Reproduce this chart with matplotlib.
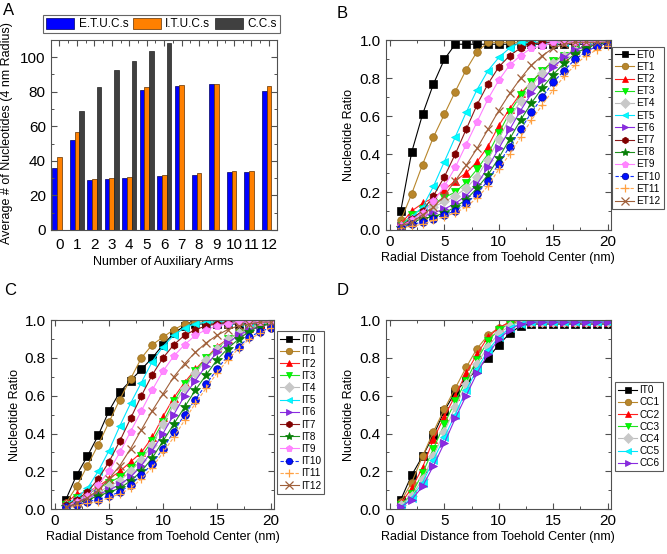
import matplotlib
matplotlib.use("Agg")
import matplotlib.pyplot as plt
from matplotlib.ticker import MultipleLocator
import numpy as np

plt.rcParams['font.family'] = ['Liberation Sans', 'DejaVu Sans']

# ---------------- Panel A data ----------------
arms = [0, 1, 2, 3, 4, 5, 6, 7, 8, 9, 10, 11, 12]
etucs = [36, 52, 29, 29.5, 30, 81, 31, 83.5, 32, 84.5, 33.5, 33.5, 80.5]
itucs = [42, 56.5, 29.5, 30, 30.5, 82.5, 32, 84, 33, 84.5, 34, 34, 83.5]
cc_arms = [1, 2, 3, 4, 5, 6]
ccs = [69, 82.5, 92.5, 97.5, 103.5, 108]

# ---------------- Radial distance ----------------
radial = list(range(1, 21))

# ---------------- Panel B data ----------------
ET0 = [0.10, 0.41, 0.61, 0.77, 0.90, 0.98, 0.98, 0.98, 0.98, 0.98, 0.98, 0.98, 0.98, 0.98, 0.98, 0.98, 0.98, 0.98, 0.98, 0.98]
ET1 = [0.05, 0.19, 0.345, 0.49, 0.61, 0.73, 0.845, 0.94, 0.99, 0.99, 0.99, 0.99, 0.99, 0.99, 0.99, 0.99, 0.99, 0.99, 0.99, 0.99]
ET2 = [0.03, 0.10, 0.14, 0.17, 0.21, 0.26, 0.30, 0.36, 0.44, 0.55, 0.64, 0.72, 0.78, 0.84, 0.89, 0.92, 0.95, 0.97, 0.98, 0.99]
ET3 = [0.02, 0.08, 0.11, 0.14, 0.17, 0.20, 0.25, 0.32, 0.40, 0.51, 0.62, 0.71, 0.78, 0.84, 0.89, 0.92, 0.95, 0.97, 0.98, 0.99]
ET4 = [0.02, 0.06, 0.09, 0.12, 0.15, 0.18, 0.22, 0.28, 0.37, 0.48, 0.59, 0.68, 0.76, 0.83, 0.88, 0.92, 0.95, 0.97, 0.98, 0.99]
ET5 = [0.02, 0.07, 0.12, 0.23, 0.36, 0.49, 0.62, 0.74, 0.84, 0.91, 0.96, 0.99, 0.99, 0.99, 0.99, 0.99, 0.99, 0.99, 0.99, 0.99]
ET6 = [0.02, 0.05, 0.07, 0.09, 0.11, 0.14, 0.18, 0.24, 0.33, 0.43, 0.53, 0.63, 0.72, 0.79, 0.86, 0.91, 0.95, 0.97, 0.98, 0.99]
ET7 = [0.02, 0.06, 0.10, 0.18, 0.28, 0.40, 0.53, 0.66, 0.77, 0.86, 0.92, 0.96, 0.98, 0.99, 0.99, 0.99, 0.99, 0.99, 0.99, 0.99]
ET8 = [0.01, 0.04, 0.06, 0.07, 0.09, 0.12, 0.16, 0.22, 0.29, 0.38, 0.48, 0.58, 0.67, 0.75, 0.82, 0.88, 0.93, 0.96, 0.98, 0.99]
ET9 = [0.02, 0.05, 0.09, 0.15, 0.23, 0.33, 0.45, 0.57, 0.69, 0.79, 0.87, 0.92, 0.96, 0.97, 0.99, 0.99, 0.99, 0.99, 0.99, 0.99]
ET10 = [0.01, 0.03, 0.04, 0.06, 0.08, 0.10, 0.14, 0.19, 0.26, 0.35, 0.44, 0.53, 0.62, 0.70, 0.78, 0.84, 0.90, 0.94, 0.97, 0.98]
ET11 = [0.01, 0.02, 0.03, 0.05, 0.07, 0.09, 0.12, 0.17, 0.23, 0.32, 0.40, 0.49, 0.58, 0.66, 0.74, 0.81, 0.87, 0.92, 0.95, 0.97]
ET12 = [0.02, 0.04, 0.08, 0.12, 0.18, 0.26, 0.34, 0.43, 0.53, 0.63, 0.72, 0.80, 0.87, 0.92, 0.96, 0.98, 0.99, 0.99, 0.99, 0.99]

# ---------------- Panel C data ----------------
IT0 = [0.05, 0.18, 0.28, 0.39, 0.52, 0.62, 0.68, 0.74, 0.80, 0.87, 0.93, 0.97, 0.98, 0.98, 0.98, 0.98, 0.98, 0.98, 0.98, 0.98]
IT1 = [0.03, 0.12, 0.23, 0.34, 0.46, 0.58, 0.69, 0.80, 0.87, 0.91, 0.95, 0.98, 0.99, 0.99, 0.99, 0.99, 0.99, 0.99, 0.99, 0.99]
IT2 = [0.03, 0.08, 0.09, 0.12, 0.16, 0.20, 0.25, 0.30, 0.38, 0.49, 0.59, 0.67, 0.74, 0.80, 0.86, 0.90, 0.93, 0.96, 0.98, 0.99]
IT3 = [0.02, 0.06, 0.08, 0.11, 0.14, 0.17, 0.22, 0.28, 0.36, 0.46, 0.57, 0.66, 0.73, 0.80, 0.85, 0.90, 0.93, 0.96, 0.98, 0.99]
IT4 = [0.02, 0.05, 0.07, 0.09, 0.12, 0.15, 0.20, 0.26, 0.34, 0.45, 0.55, 0.64, 0.72, 0.79, 0.85, 0.90, 0.93, 0.96, 0.98, 0.99]
IT5 = [0.02, 0.06, 0.11, 0.20, 0.31, 0.44, 0.56, 0.67, 0.78, 0.86, 0.92, 0.96, 0.98, 0.99, 0.99, 0.99, 0.99, 0.99, 0.99, 0.99]
IT6 = [0.01, 0.04, 0.06, 0.08, 0.10, 0.13, 0.17, 0.23, 0.31, 0.40, 0.50, 0.60, 0.68, 0.76, 0.83, 0.88, 0.92, 0.95, 0.97, 0.98]
IT7 = [0.02, 0.05, 0.09, 0.16, 0.25, 0.36, 0.48, 0.60, 0.71, 0.80, 0.87, 0.92, 0.95, 0.97, 0.98, 0.99, 0.99, 0.99, 0.99, 0.99]
IT8 = [0.01, 0.03, 0.05, 0.07, 0.09, 0.11, 0.15, 0.20, 0.27, 0.36, 0.45, 0.54, 0.63, 0.71, 0.79, 0.85, 0.90, 0.94, 0.97, 0.98]
IT9 = [0.01, 0.04, 0.07, 0.13, 0.20, 0.30, 0.41, 0.52, 0.63, 0.73, 0.81, 0.87, 0.92, 0.95, 0.97, 0.98, 0.99, 0.99, 0.99, 0.99]
IT10 = [0.01, 0.02, 0.04, 0.05, 0.07, 0.09, 0.13, 0.18, 0.24, 0.32, 0.41, 0.50, 0.58, 0.66, 0.74, 0.81, 0.86, 0.91, 0.94, 0.96]
IT11 = [0.00, 0.02, 0.03, 0.04, 0.06, 0.08, 0.11, 0.16, 0.22, 0.30, 0.38, 0.47, 0.56, 0.64, 0.72, 0.79, 0.85, 0.90, 0.93, 0.96]
IT12 = [0.01, 0.03, 0.06, 0.10, 0.16, 0.23, 0.32, 0.42, 0.52, 0.61, 0.70, 0.77, 0.83, 0.88, 0.92, 0.95, 0.97, 0.98, 0.99, 0.99]

# ---------------- Panel D data ----------------
CC1 = [0.04, 0.14, 0.28, 0.41, 0.53, 0.64, 0.75, 0.85, 0.92, 0.96, 0.99, 0.99, 0.99, 0.99, 0.99, 0.99, 0.99, 0.99, 0.99, 0.99]
CC2 = [0.03, 0.11, 0.22, 0.37, 0.49, 0.60, 0.72, 0.82, 0.91, 0.96, 0.99, 0.99, 0.99, 0.99, 0.99, 0.99, 0.99, 0.99, 0.99, 0.99]
CC3 = [0.02, 0.08, 0.19, 0.32, 0.45, 0.57, 0.68, 0.79, 0.89, 0.95, 0.98, 0.99, 0.99, 0.99, 0.99, 0.99, 0.99, 0.99, 0.99, 0.99]
CC4 = [0.02, 0.07, 0.16, 0.28, 0.41, 0.54, 0.66, 0.77, 0.86, 0.93, 0.97, 0.99, 0.99, 0.99, 0.99, 0.99, 0.99, 0.99, 0.99, 0.99]
CC5 = [0.01, 0.06, 0.14, 0.26, 0.38, 0.50, 0.63, 0.74, 0.84, 0.91, 0.96, 0.98, 0.99, 0.99, 0.99, 0.99, 0.99, 0.99, 0.99, 0.99]
CC6 = [0.01, 0.05, 0.12, 0.23, 0.35, 0.48, 0.60, 0.72, 0.82, 0.90, 0.95, 0.98, 0.99, 0.99, 0.99, 0.99, 0.99, 0.99, 0.99, 0.99]

# ---------------- styles ----------------
styles = [
    dict(color='black', marker='s', mfc='black', mec='black', ls='-'),
    dict(color='#B8862B', marker='o', mfc='#B8862B', mec='#9A6F1E', ls='-'),
    dict(color='#FF2020', marker='^', mfc='#FF0000', mec='#FF0000', ls='-'),
    dict(color='#20E020', marker='v', mfc='#00FF00', mec='#00E000', ls='-'),
    dict(color='#BBBBBB', marker='D', mfc='#C8C8C8', mec='#C8C8C8', ls='-'),
    dict(color='#00E5FF', marker='<', mfc='#00FFFF', mec='#00E0F0', ls='-'),
    dict(color='#8A2BE2', marker='>', mfc='#8A2BE2', mec='#7A20D0', ls='-'),
    dict(color='#8B1A1A', marker='h', mfc='#800000', mec='#800000', ls='-'),
    dict(color='#1E8F1E', marker='*', mfc='#087F08', mec='#087F08', ls='-'),
    dict(color='#FF80FF', marker='p', mfc='#FF88FF', mec='#FF70FF', ls='-'),
    dict(color='#1030FF', marker='o', mfc='#0010FF', mec='#000090', ls=(0, (3, 1.5))),
    dict(color='#FFAA55', marker='+', mfc='#FFA040', mec='#FFA040', ls=(0, (3, 1.5))),
    dict(color='#A0603A', marker='x', mfc='#A0603A', mec='#A0603A', ls='-'),
]

fig = plt.figure(figsize=(6.67, 5.54), dpi=100)

frame_col = '#505050'


def style_axes(ax):
    for s in ax.spines.values():
        s.set_color(frame_col)
        s.set_linewidth(0.8)
    ax.tick_params(which='both', direction='in', top=True, right=True,
                   color=frame_col, labelsize=11)
    ax.tick_params(which='major', length=4, width=0.8)
    ax.tick_params(which='minor', length=2.5, width=0.7)


def line_panel(rect, series, labels, style_idx, leg_anchor):
    ax = fig.add_axes(rect)
    for vals, lab, si in zip(series, labels, style_idx):
        st = styles[si]
        ms = 5.5
        if st['marker'] == '*':
            ms = 7
        elif st['marker'] in ('+', 'x'):
            ms = 6
        ax.plot(radial, vals, color=st['color'], lw=0.8, ls=st['ls'],
                marker=st['marker'], ms=ms, mfc=st['mfc'], mec=st['mec'],
                mew=0.9 if st['marker'] in ('+', 'x') else 0.5, label=lab)
    ax.set_xlim(-0.4, 20.3)
    ax.set_ylim(0, 1.0)
    ax.xaxis.set_major_locator(MultipleLocator(5))
    ax.xaxis.set_minor_locator(MultipleLocator(2.5))
    ax.yaxis.set_major_locator(MultipleLocator(0.2))
    ax.yaxis.set_minor_locator(MultipleLocator(0.1))
    ax.yaxis.set_major_formatter(matplotlib.ticker.FormatStrFormatter('%.1f'))
    style_axes(ax)
    ax.set_xlabel('Radial Distance from Toehold Center (nm)', fontsize=9, labelpad=2)
    ax.set_ylabel('Nucleotide Ratio', fontsize=9, labelpad=3)
    leg = ax.legend(loc='upper left', bbox_to_anchor=leg_anchor, fontsize=7.2,
                    frameon=True, fancybox=False, edgecolor='#303030',
                    borderpad=0.3, labelspacing=0.22, handlelength=1.9,
                    handletextpad=0.25, borderaxespad=0, markerscale=0.85)
    leg.get_frame().set_linewidth(0.8)
    return ax


# ---------------- Panel A ----------------
axA = fig.add_axes([0.076, 0.585, 0.339, 0.343])
x = np.array(arms, dtype=float)
w = 0.27
axA.bar(x - w, etucs, width=w, color='#0000FF', edgecolor='#000060', linewidth=0.5, label='E.T.U.C.s')
axA.bar(x, itucs, width=w, color='#FF8000', edgecolor='#603000', linewidth=0.5, label='I.T.U.C.s')
axA.bar(np.array(cc_arms, dtype=float) + w, ccs, width=w, color='#404040', edgecolor='#202020', linewidth=0.5, label='C.C.s')
axA.set_xlim(-0.5, 12.45)
axA.set_ylim(0, 110)
axA.set_xticks(arms)
axA.set_xticklabels([str(a) for a in arms])
axA.xaxis.set_minor_locator(MultipleLocator(0.5))
axA.yaxis.set_major_locator(MultipleLocator(20))
axA.yaxis.set_minor_locator(MultipleLocator(10))
style_axes(axA)
axA.tick_params(axis='x', which='both', bottom=False)
axA.tick_params(axis='x', labelsize=11, pad=6)
axA.tick_params(axis='y', labelsize=11)
axA.set_xlabel('Number of Auxiliary Arms', fontsize=9, labelpad=3)
axA.set_ylabel('Average # of Nucleotides (4 nm Radius)', fontsize=9, labelpad=2)
axA.yaxis.set_label_coords(-0.165, 0.51)
legA = axA.legend(loc='lower center', bbox_to_anchor=(0.49, 1.035), ncol=3, fontsize=8.5,
                  frameon=True, fancybox=False, edgecolor='#404040', borderpad=0.25,
                  handlelength=2.4, handleheight=1.1, handletextpad=0.35, columnspacing=0.4,
                  borderaxespad=0)
legA.get_frame().set_linewidth(0.8)

# ---------------- Panel B ----------------
line_panel([0.578, 0.585, 0.338, 0.342],
           [ET0, ET1, ET2, ET3, ET4, ET5, ET6, ET7, ET8, ET9, ET10, ET11, ET12],
           ['ET0', 'ET1', 'ET2', 'ET3', 'ET4', 'ET5', 'ET6', 'ET7', 'ET8', 'ET9', 'ET10', 'ET11', 'ET12'],
           list(range(13)), (1.005, 0.967))

# ---------------- Panel C ----------------
line_panel([0.076, 0.081, 0.335, 0.341],
           [IT0, IT1, IT2, IT3, IT4, IT5, IT6, IT7, IT8, IT9, IT10, IT11, IT12],
           ['IT0', 'IT1', 'IT2', 'IT3', 'IT4', 'IT5', 'IT6', 'IT7', 'IT8', 'IT9', 'IT10', 'IT11', 'IT12'],
           list(range(13)), (1.012, 0.942))

# ---------------- Panel D ----------------
line_panel([0.578, 0.081, 0.338, 0.341],
           [IT0, CC1, CC2, CC3, CC4, CC5, CC6],
           ['IT0', 'CC1', 'CC2', 'CC3', 'CC4', 'CC5', 'CC6'],
           list(range(7)), (1.018, 0.672))

# panel letters
fig.text(0.004, 0.995, 'A', fontsize=12, va='top', ha='left')
fig.text(0.505, 0.99, 'B', fontsize=12, va='top', ha='left')
fig.text(0.006, 0.49, 'C', fontsize=12, va='top', ha='left')
fig.text(0.505, 0.49, 'D', fontsize=12, va='top', ha='left')

fig.savefig('out.png', dpi=100)
